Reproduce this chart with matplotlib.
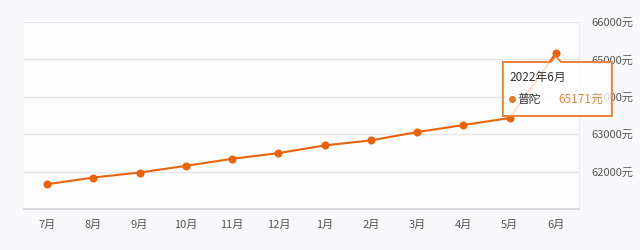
import matplotlib

matplotlib.use("Agg")

import matplotlib.pyplot as plt
import matplotlib.transforms as mtransforms
from matplotlib.patches import Polygon

plt.rcParams["font.family"] = ["Noto Sans CJK SC", "DejaVu Sans"]

months = ["7月", "8月", "9月", "10月", "11月", "12月", "1月", "2月", "3月", "4月", "5月", "6月"]
prices = [61662, 61841, 61975, 62154, 62342, 62494, 62700, 62834, 63057, 63245, 63433, 65171]
y_ticks = [62000, 63000, 64000, 65000, 66000]
district = "普陀"
tooltip_title = "2022年6月"

LINE_COLOR = "#e8640c"

fig = plt.figure(figsize=(6.4, 2.5), dpi=100, facecolor="#f9f9fb")
ax = fig.add_axes([24 / 640, 1 - 209 / 250, 555 / 640, 187 / 250])
ax.set_facecolor("#fdfdfe")

x = list(range(len(months)))
ax.plot(x, prices, color=LINE_COLOR, linewidth=1.5, marker="o", markersize=4.8, zorder=3)

ax.set_xlim(-0.5, len(months) - 0.5)
ax.set_ylim(61000, 66000)
ax.set_xticks(x)
ax.set_xticklabels(months, fontsize=8, color="#555555")
ax.set_yticks(y_ticks)
ax.set_yticklabels([f"{v}元" for v in y_ticks], fontsize=8, color="#555555")
ax.yaxis.tick_right()
ax.tick_params(axis="both", length=0)
ax.tick_params(axis="x", pad=7.5)
ax.tick_params(axis="y", pad=9)

for v in y_ticks:
    ax.axhline(v, color="#e4e6ea", linewidth=1, zorder=1)

for side in ["top", "left"]:
    ax.spines[side].set_visible(False)
ax.spines["bottom"].set_color("#cfd2d8")
ax.spines["bottom"].set_linewidth(1.2)
ax.spines["right"].set_color("#eceef1")
ax.spines["right"].set_linewidth(1)

# tooltip anchored to the last point, shapes in pixel offsets
fig.canvas.draw()
anchor = mtransforms.ScaledTranslation(x[-1], prices[-1], ax.transData)
pix = mtransforms.Affine2D() + anchor
outline = [
    (-53, -9), (-5, -9), (0, -3), (5, -9), (56, -9),
    (56, -63), (-53, -63),
]
box = Polygon(outline, closed=True, transform=pix, facecolor="white", alpha=0.8,
              edgecolor="none", zorder=5, clip_on=False)
edge = Polygon(outline, closed=True, transform=pix, facecolor="none",
               edgecolor="#e8823a", linewidth=1.4, zorder=6, clip_on=False)
ax.add_patch(box)
ax.add_patch(edge)

ax.text(-46, -24, tooltip_title, transform=pix, fontsize=8.5, color="#333333",
        ha="left", va="center", zorder=7)
ax.plot([-44], [-46], transform=pix, marker="o", markersize=4, color="#e07a2a",
        zorder=7, clip_on=False)
ax.text(-39, -46, district, transform=pix, fontsize=8.5, color="#333333",
        ha="left", va="center", zorder=7)
ax.text(47, -46, f"{prices[-1]}元", transform=pix, fontsize=8.5, color="#d98a44",
        ha="right", va="center", zorder=7)

fig.savefig("out.png", dpi=100, facecolor=fig.get_facecolor())
